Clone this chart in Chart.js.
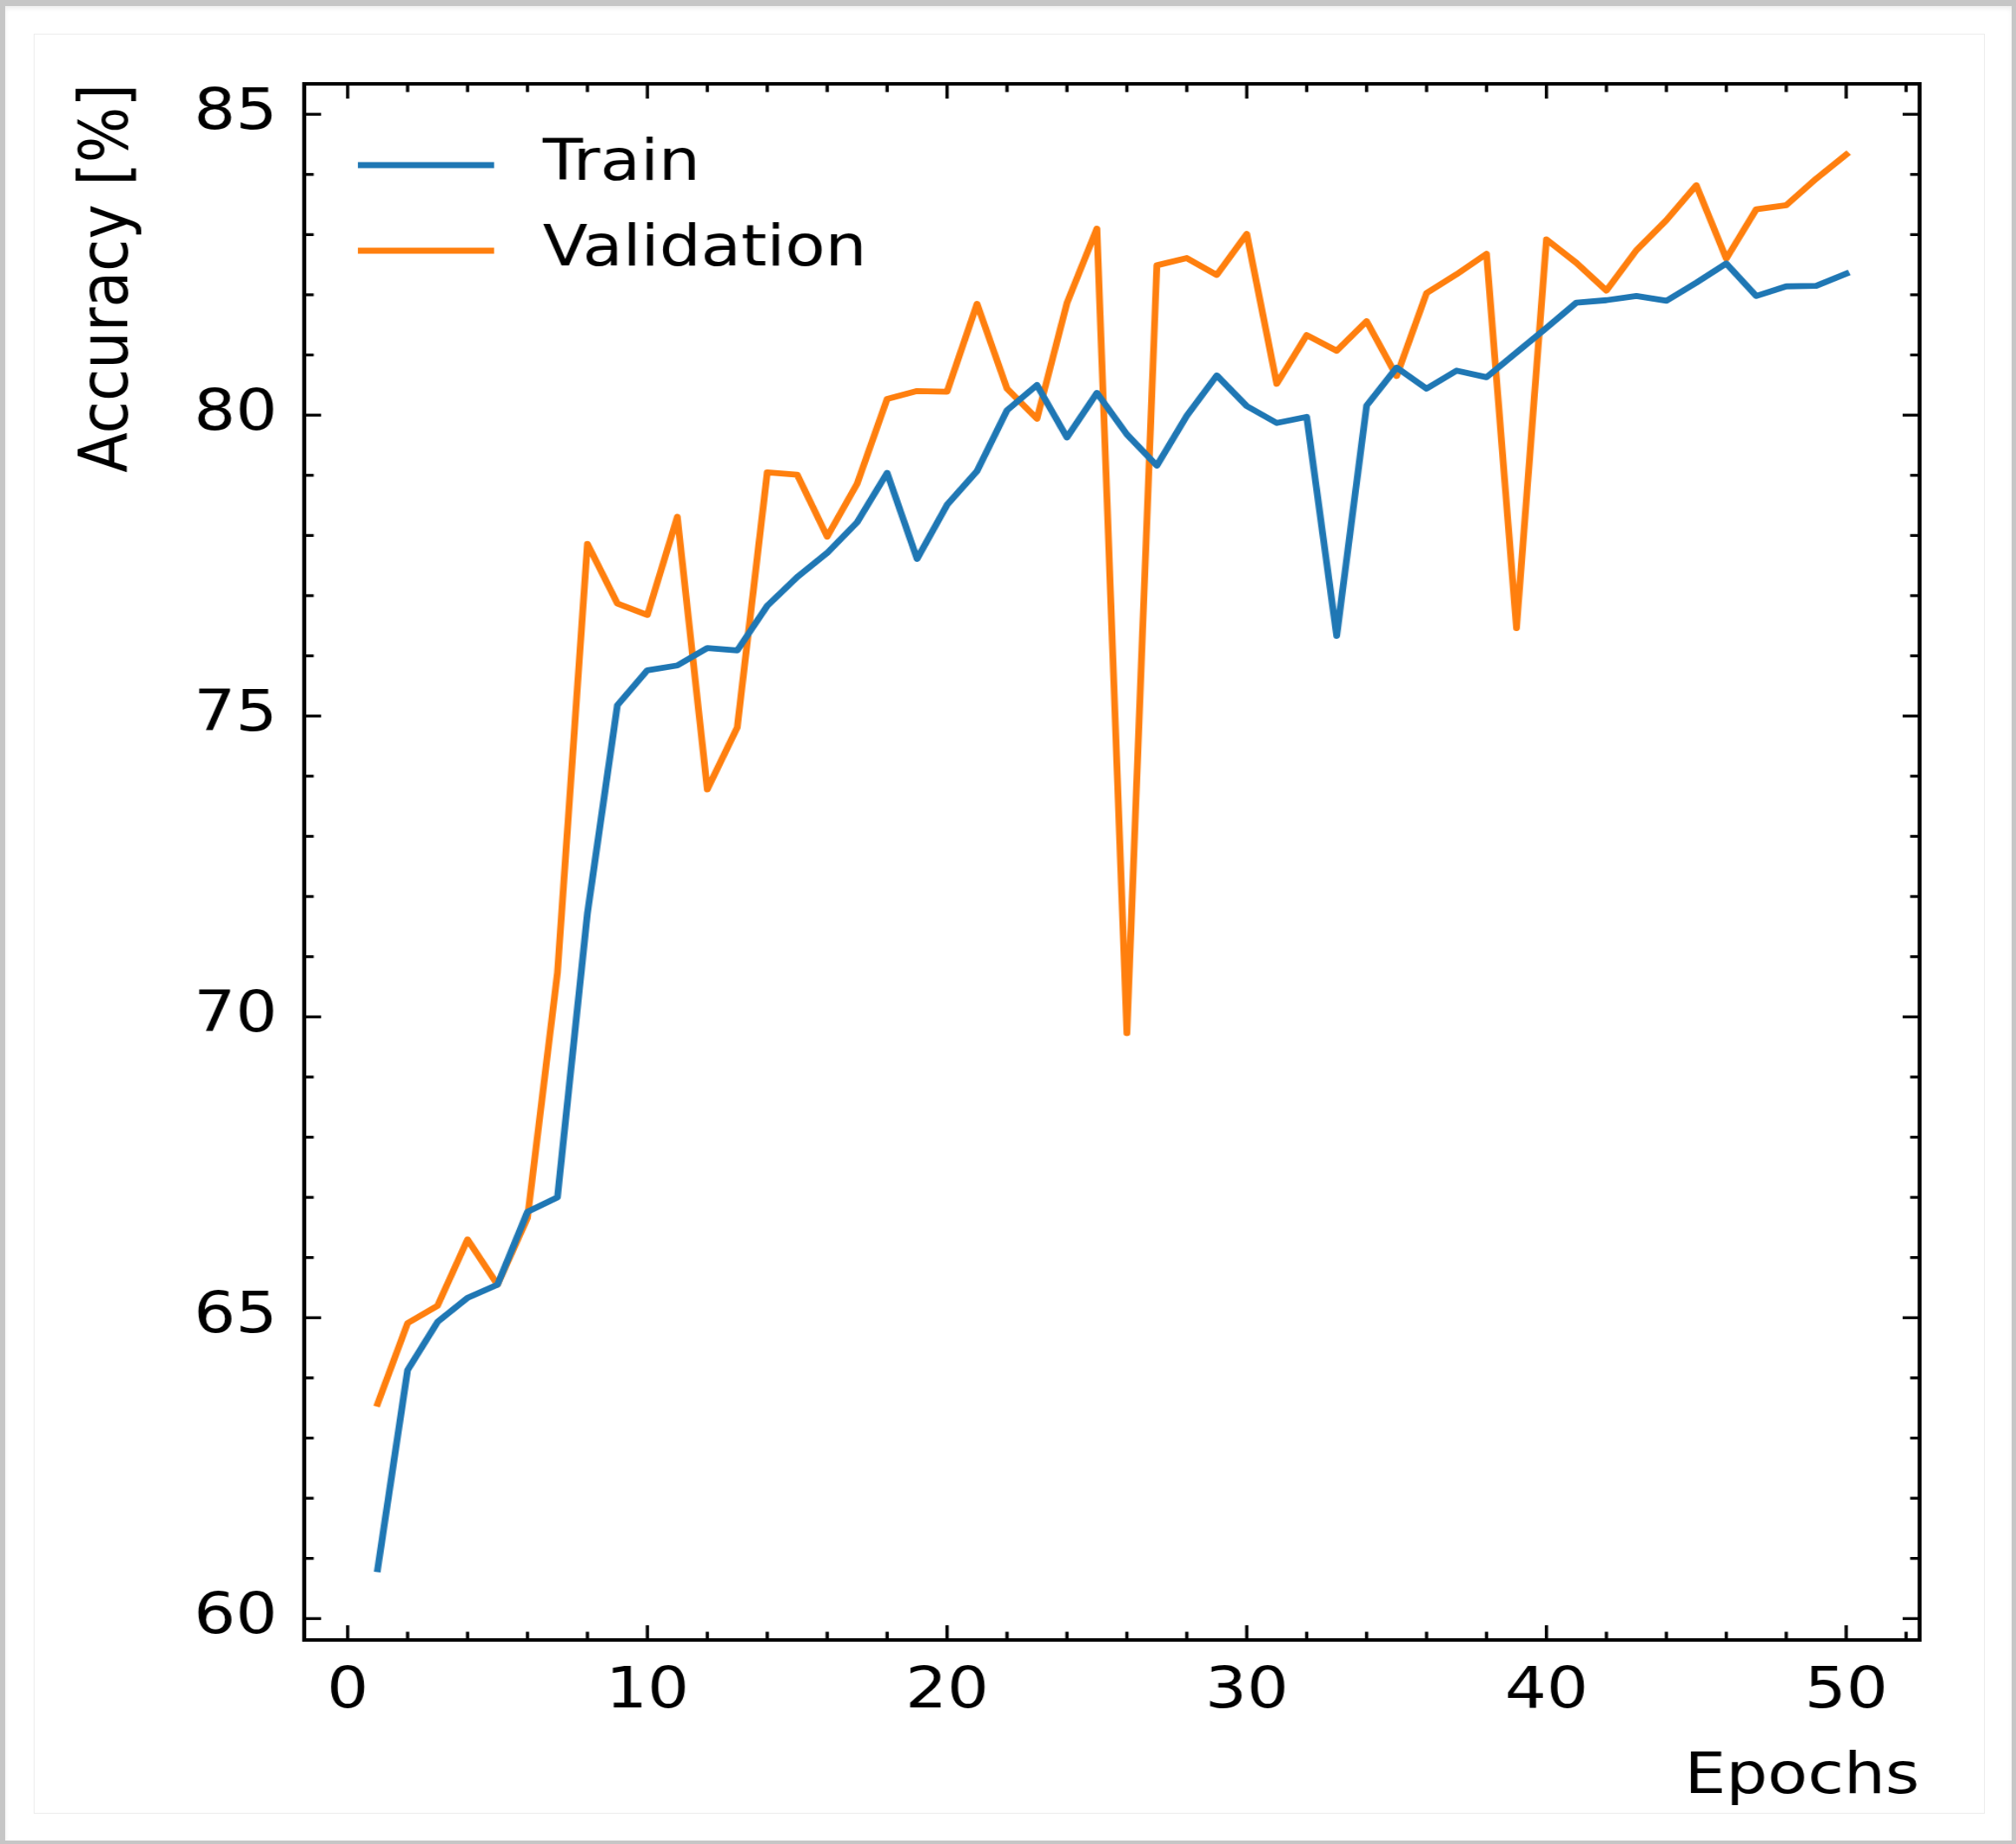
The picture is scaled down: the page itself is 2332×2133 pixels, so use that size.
<!DOCTYPE html>
<html>
<head>
<meta charset="utf-8">
<title>Accuracy per epoch</title>
<script src="https://cdn.jsdelivr.net/npm/chart.js@4.4.1/dist/chart.umd.min.js"></script>
<style>
  html, body { margin: 0; padding: 0; background: #fff; }
  #page { position: relative; width: 2332px; height: 2133px; overflow: hidden; background: #c6c6c6; }
  #sheet { position: absolute; left: 6px; top: 7px; right: 5px; bottom: 4px; background: #fff;
           box-shadow: inset 0 3px 5px rgba(0,0,0,0.07); }
  #panel { position: absolute; left: 39px; top: 39px; width: 2255px; height: 2057px; border: 1px solid #ececec; }
  #plot { position: absolute; left: 0; top: 0; transform-origin: 0 0; }
</style>
</head>
<body>
<div id="page">
  <div id="sheet"></div>
  <div id="panel"></div>
  <canvas id="plot"></canvas>
</div>
<script>
// ---- data -------------------------------------------------------------
const epochs = [1, 2, 3, 4, 5, 6, 7, 8, 9, 10, 11, 12, 13, 14, 15, 16, 17, 18, 19, 20,
                21, 22, 23, 24, 25, 26, 27, 28, 29, 30, 31, 32, 33, 34, 35, 36, 37, 38, 39, 40,
                41, 42, 43, 44, 45, 46, 47, 48, 49, 50];

const trainAcc = [60.82, 64.13, 64.93, 65.33, 65.55, 66.76, 67.00, 71.72, 75.18, 75.76,
                  75.84, 76.13, 76.09, 76.83, 77.31, 77.71, 78.22, 79.04, 77.61, 78.51,
                  79.07, 80.08, 80.50, 79.63, 80.37, 79.68, 79.16, 79.99, 80.66, 80.15,
                  79.87, 79.97, 76.33, 80.16, 80.79, 80.44, 80.74, 80.63, 81.04, 81.45,
                  81.87, 81.91, 81.98, 81.90, 82.20, 82.52, 81.98, 82.14, 82.15, 82.35];

const valAcc = [63.57, 64.91, 65.20, 66.30, 65.55, 66.66, 70.73, 77.86, 76.87, 76.68,
                78.31, 73.78, 74.81, 79.05, 79.01, 77.98, 78.86, 80.27, 80.40, 80.39,
                81.85, 80.44, 79.94, 81.86, 83.10, 69.73, 82.49, 82.61, 82.33, 83.01,
                80.52, 81.33, 81.07, 81.56, 80.65, 82.03, 82.34, 82.68, 76.46, 82.92,
                82.53, 82.07, 82.74, 83.24, 83.82, 82.60, 83.42, 83.49, 83.93, 84.33];

const seriesNames = ['Train', 'Validation'];
const xTickValues = [0, 10, 20, 30, 40, 50];
const yTickValues = [60, 65, 70, 75, 80, 85];
const xAxisTitle = 'Epochs';
const yAxisTitle = 'Accuracy [%]';

// ---- look -------------------------------------------------------------
const COLORS = ['#1f77b4', '#ff7f0e'];
const FONT = 'DejaVu Sans';
const FONT_SIZE = 66;
const STRETCH = 1.15;              // horizontal aspect of the figure
const PAGE_W = 2332, PAGE_H = 2133;
const W = Math.round(PAGE_W / STRETCH);
const X_MINOR_STEP = 2, Y_MINOR_STEP = 1;
const MAJOR_LEN = 17, MINOR_LEN = 9.5, TICK_W = 3.3, FRAME_W = 4;
const LINE_W = 6.8;
const AXES_TOP = 97, AXES_BOTTOM = 1897, AXES_LEFT = 352, AXES_RIGHT = 2221;

// axis limits padded by 5% of the data span on each side
const pad = (lo, hi) => [lo - 0.05 * (hi - lo), hi + 0.05 * (hi - lo)];
const [xMin, xMax] = pad(Math.min(...epochs), Math.max(...epochs));
const allY = trainAcc.concat(valAcc);
const [yMin, yMax] = pad(Math.min(...allY), Math.max(...allY));

const canvas = document.getElementById('plot');
canvas.width = W;
canvas.height = PAGE_H;
canvas.style.width = W + 'px';
canvas.style.height = PAGE_H + 'px';
canvas.style.transform = 'scaleX(' + (PAGE_W / W) + ')';

// black box around the axes with inward ticks on all four sides
const frameAndTicks = {
  id: 'frameAndTicks',
  afterDatasetsDraw(chart) {
    const { ctx, chartArea: a, scales: { x, y } } = chart;
    const seg = (x0, y0, x1, y1) => { ctx.beginPath(); ctx.moveTo(x0, y0); ctx.lineTo(x1, y1); ctx.stroke(); };
    ctx.save();
    ctx.strokeStyle = '#000';
    ctx.lineCap = 'butt';
    ctx.lineWidth = TICK_W;
    const xt = (v, len) => { const p = x.getPixelForValue(v); seg(p, a.bottom, p, a.bottom - len); seg(p, a.top, p, a.top + len); };
    const yt = (v, len) => { const p = y.getPixelForValue(v); seg(a.left, p, a.left + len, p); seg(a.right, p, a.right - len, p); };
    xTickValues.forEach(v => xt(v, MAJOR_LEN));
    yTickValues.forEach(v => yt(v, MAJOR_LEN));
    for (let v = Math.ceil(xMin / X_MINOR_STEP) * X_MINOR_STEP; v <= xMax; v += X_MINOR_STEP) {
      if (!xTickValues.includes(v)) xt(v, MINOR_LEN);
    }
    for (let v = Math.ceil(yMin / Y_MINOR_STEP) * Y_MINOR_STEP; v <= yMax; v += Y_MINOR_STEP) {
      if (!yTickValues.includes(v)) yt(v, MINOR_LEN);
    }
    ctx.lineWidth = FRAME_W;
    ctx.lineJoin = 'miter';
    ctx.strokeRect(a.left, a.top, a.right - a.left, a.bottom - a.top);
    ctx.restore();
  }
};

// legend placed inside the upper-left corner of the axes
const insetLegend = {
  id: 'insetLegend',
  afterDatasetsDraw(chart) {
    const { ctx, chartArea: a } = chart;
    ctx.save();
    chart.data.datasets.forEach((ds, i) => {
      const yy = a.top + 94 + i * 99;
      ctx.strokeStyle = ds.borderColor;
      ctx.lineWidth = ds.borderWidth;
      ctx.lineCap = 'butt';
      ctx.beginPath();
      ctx.moveTo(a.left + 54, yy);
      ctx.lineTo(a.left + 191, yy);
      ctx.stroke();
      ctx.fillStyle = '#000';
      ctx.font = FONT_SIZE + 'px "' + FONT + '"';
      ctx.textBaseline = 'middle';
      ctx.textAlign = 'left';
      ctx.fillText(ds.label, a.left + 240, yy);
    });
    ctx.restore();
  }
};

const makeSeries = (values) => epochs.map((e, i) => ({ x: e, y: values[i] }));

new Chart(canvas, {
  type: 'line',
  data: {
    datasets: [trainAcc, valAcc].map((vals, i) => ({
      label: seriesNames[i],
      data: makeSeries(vals),
      borderColor: COLORS[i],
      backgroundColor: COLORS[i],
      borderWidth: LINE_W,
      pointRadius: 0,
      tension: 0,
      fill: false,
      borderJoinStyle: 'round',
      borderCapStyle: 'square'
    }))
  },
  options: {
    responsive: false,
    devicePixelRatio: 1,
    animation: false,
    events: [],
    layout: { padding: { left: 0, top: AXES_TOP, right: W - Math.round(AXES_RIGHT / STRETCH), bottom: 0 } },
    plugins: { legend: { display: false }, tooltip: { enabled: false } },
    scales: {
      x: {
        type: 'linear',
        min: xMin,
        max: xMax,
        grid: { display: false, drawTicks: false, tickLength: 0 },
        border: { display: false },
        afterBuildTicks: (s) => { s.ticks = xTickValues.map(v => ({ value: v })); },
        afterFit: (s) => { s.height = PAGE_H - AXES_BOTTOM; },
        ticks: {
          autoSkip: false, maxRotation: 0, padding: 21, color: '#000',
          font: { family: FONT, size: FONT_SIZE, lineHeight: 1.2 },
          callback: (v) => String(v)
        },
        title: {
          display: true, text: xAxisTitle, align: 'end', color: '#000',
          font: { family: FONT, size: FONT_SIZE, lineHeight: 1.2 },
          padding: { top: 0, bottom: 37 }
        }
      },
      y: {
        type: 'linear',
        min: yMin,
        max: yMax,
        grid: { display: false, drawTicks: false, tickLength: 0 },
        border: { display: false },
        afterBuildTicks: (s) => { s.ticks = yTickValues.map(v => ({ value: v })); },
        afterFit: (s) => { s.width = Math.round(AXES_LEFT / STRETCH); },
        ticks: {
          autoSkip: false, padding: 27, color: '#000',
          font: { family: FONT, size: FONT_SIZE, lineHeight: 1.2 },
          callback: (v) => String(v)
        },
        title: {
          display: true, text: yAxisTitle, align: 'end', color: '#000',
          font: { family: FONT, size: 68, lineHeight: 1.2 },
          padding: { top: 70, bottom: 0 }
        }
      }
    }
  },
  plugins: [frameAndTicks, insetLegend]
});
</script>
</body>
</html>
